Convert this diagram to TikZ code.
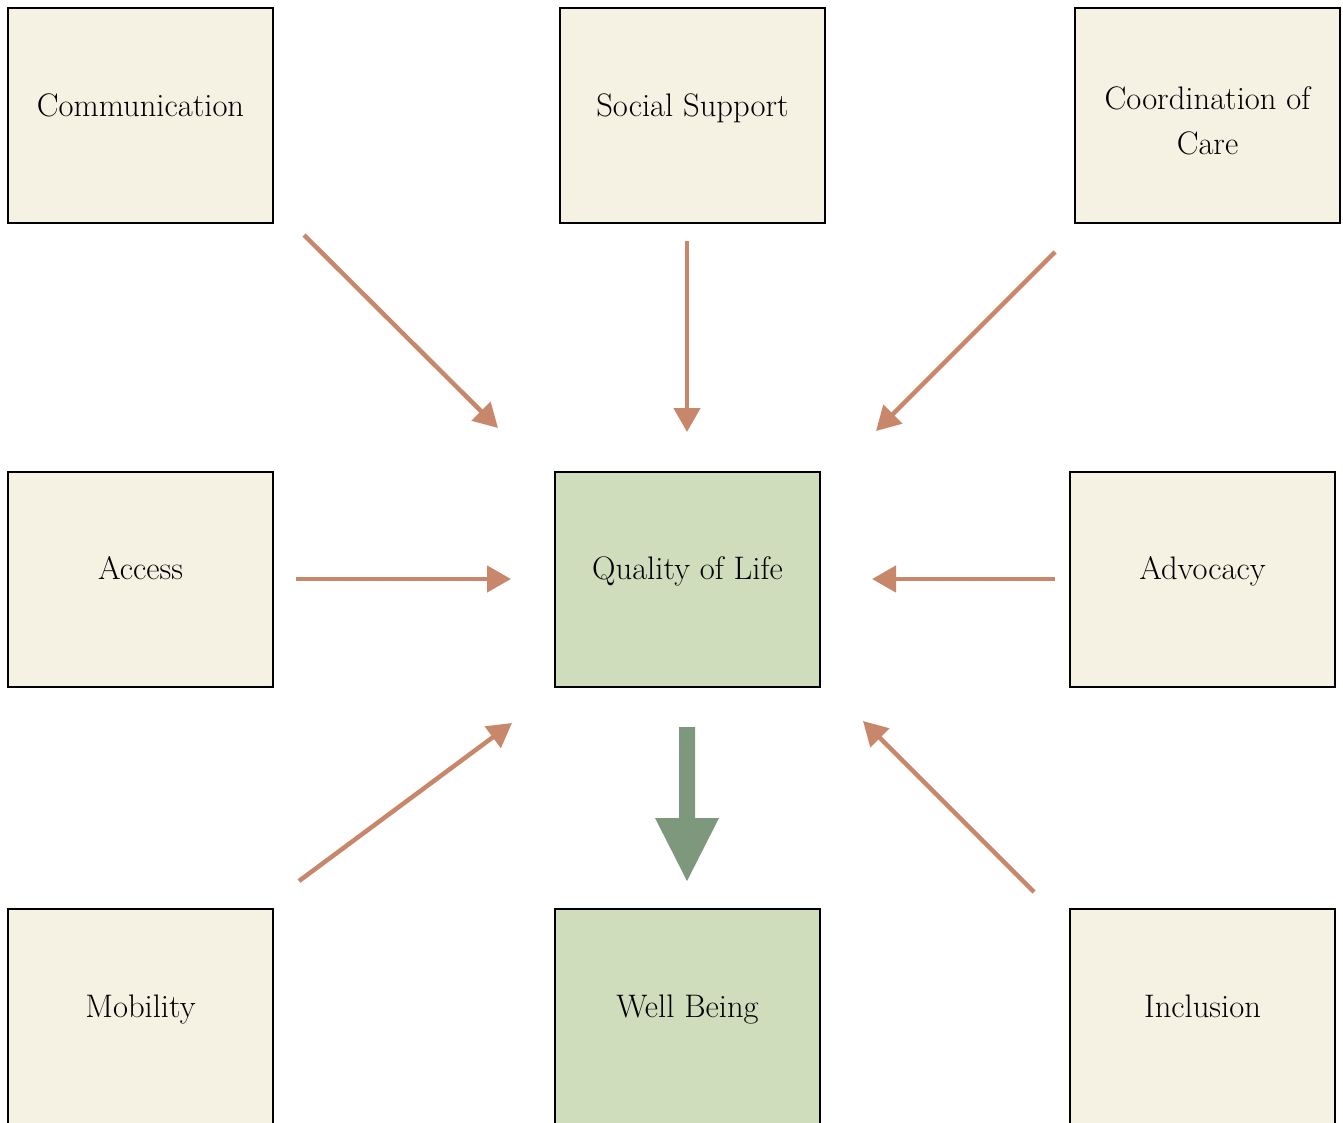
\documentclass[tikz,border=0pt]{standalone}
\usepackage{fontspec}
\usetikzlibrary{arrows.meta}
\definecolor{boxbeige}{HTML}{F5F2E3}
\definecolor{boxgreen}{HTML}{CFDDBD}
\definecolor{linkorange}{HTML}{C8876A}
\definecolor{flowgreen}{HTML}{7D987C}
\begin{document}
\begin{tikzpicture}[x=1pt,y=-1pt,
  factor/.style={draw=black,line width=2.4pt,fill=boxbeige,minimum width=265pt,minimum height=215pt,inner sep=0pt},
  outcome/.style={factor,fill=boxgreen},
  label/.style={font=\fontsize{32.6}{45}\selectfont,align=center},
  baselabel/.style={label,anchor=base},
  link/.style={draw=linkorange,line width=4.5pt,-{Triangle[length=24pt,width=26pt]}}]
\useasboundingbox (0,0) rectangle (1343,1123);
\clip (0,0) rectangle (1343,1123);
\fill[white] (0,0) rectangle (1343,1123);

% factor and outcome boxes
\node[factor]  (comm) at (140.5,115.5) {};
\node[factor]  (soc)  at (692.5,115.5) {};
\node[factor]  (coord) at (1207.5,115.5) {};
\node[factor]  (acc)  at (140.5,579.5) {};
\node[outcome] (qol)  at (687.5,579.5) {};
\node[factor]  (adv)  at (1202.5,579.5) {};
\node[factor]  (mob)  at (140.5,1016.5) {};
\node[outcome] (wb)   at (687.5,1016.5) {};
\node[factor]  (inc)  at (1202.5,1016.5) {};

% box texts
\node[baselabel] (tcomm)  at (140.5,117) {Communication};
\node[baselabel] (tsoc)   at (692.5,117) {Social Support};
\node[label]     (tcoord) at (1207.5,121) {Coordination of\\Care};
\node[baselabel] (tacc)   at (140.5,579) {Access};
\node[baselabel] (tqol)   at (687.5,579) {Quality of Life};
\node[baselabel] (tadv)   at (1202.5,579) {Advocacy};
\node[baselabel] (tmob)   at (140.5,1017) {Mobility};
\node[baselabel] (twb)    at (687.5,1017) {Well Being};
\node[baselabel] (tinc)   at (1202.5,1017) {Inclusion};

% arrow end points
\coordinate (c1s) at (304,235);  \coordinate (c1e) at (498,428);
\coordinate (c2s) at (687,241);  \coordinate (c2e) at (687,432);
\coordinate (c3s) at (1055,252); \coordinate (c3e) at (876,431);
\coordinate (c4s) at (296,579);  \coordinate (c4e) at (511,579);
\coordinate (c5s) at (1055,579); \coordinate (c5e) at (872,579);
\coordinate (c6s) at (299,881);  \coordinate (c6e) at (512,723);
\coordinate (c7s) at (1034,892); \coordinate (c7e) at (863,721);

\draw[link] (c1s) -- (c1e);
\draw[link] (c2s) -- (c2e);
\draw[link] (c3s) -- (c3e);
\draw[link] (c4s) -- (c4e);
\draw[link] (c5s) -- (c5e);
\draw[link] (c6s) -- (c6e);
\draw[link] (c7s) -- (c7e);

% block arrow from Quality of Life to Well Being
\coordinate (fs) at (687,727);
\coordinate (fe) at (687,881);
\fill[flowgreen] ([xshift=-8pt]fs) -- ([xshift=8pt]fs) -- ([xshift=8pt,yshift=63pt]fe)
  -- ([xshift=32pt,yshift=63pt]fe) -- (fe) -- ([xshift=-32pt,yshift=63pt]fe)
  -- ([xshift=-8pt,yshift=63pt]fe) -- cycle;
\end{tikzpicture}
\end{document}
